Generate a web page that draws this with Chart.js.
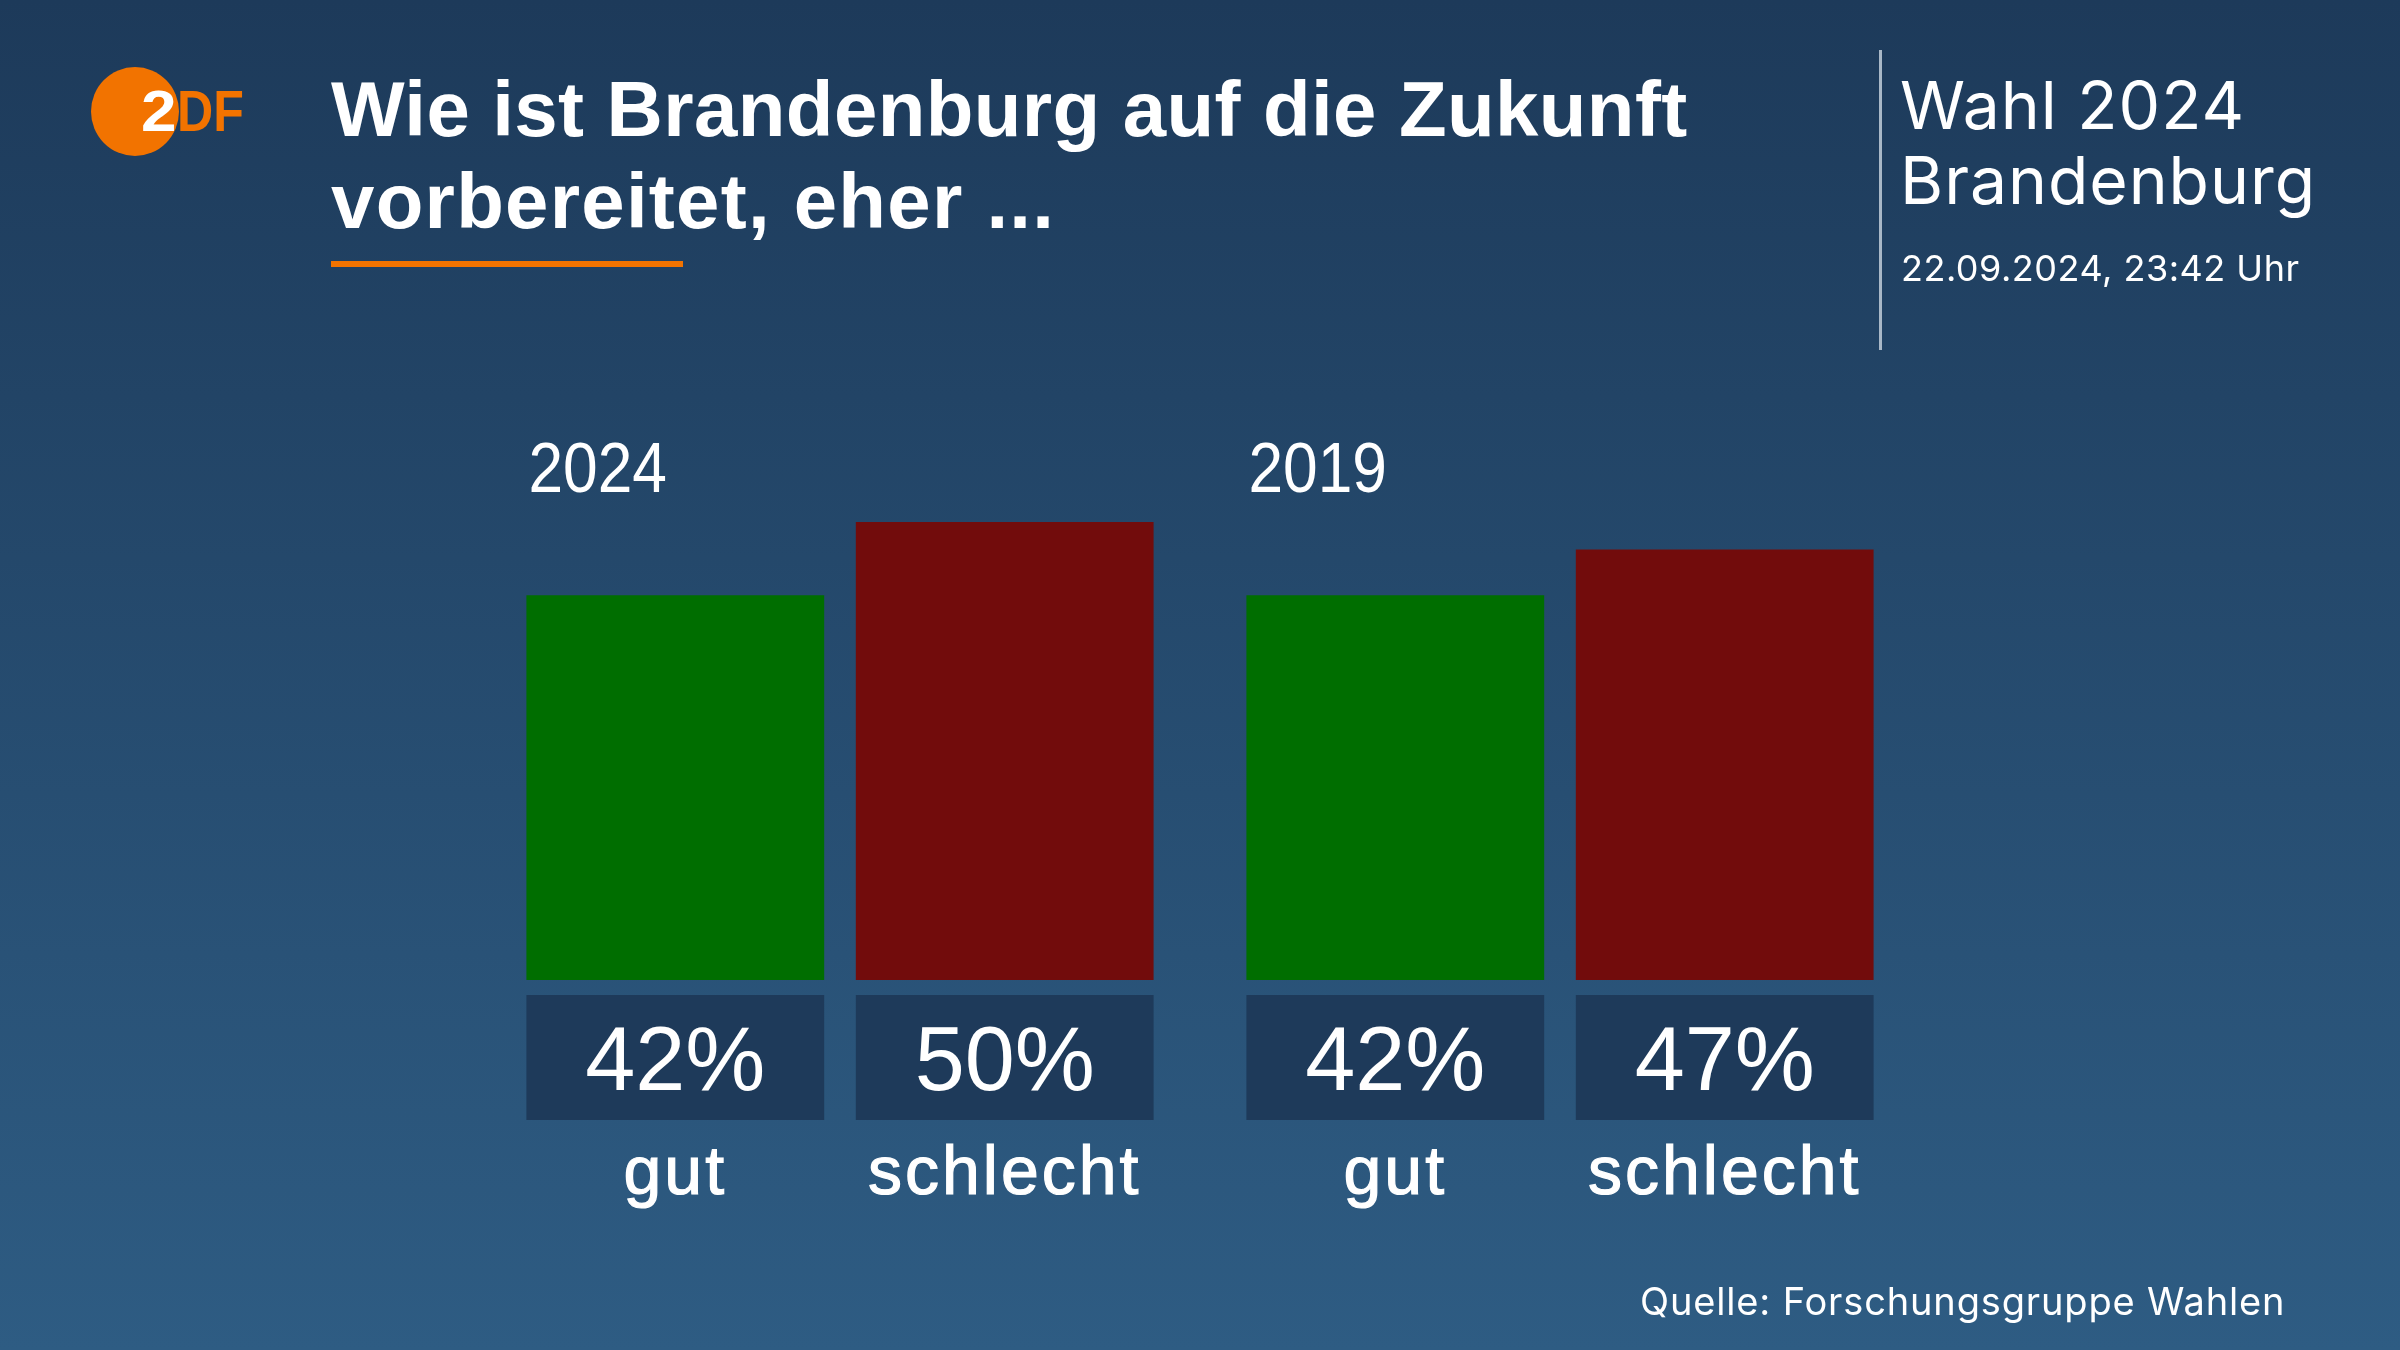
<!DOCTYPE html>
<html lang="de">
<head>
<meta charset="utf-8">
<title>Wie ist Brandenburg auf die Zukunft vorbereitet</title>
<script src="https://cdn.jsdelivr.net/npm/chart.js@4"></script>
<style>
    html, body { margin: 0; padding: 0; }
    body {
        width: 2400px; height: 1350px; position: relative; overflow: hidden;
        background: linear-gradient(180deg, #1d3a5a 0%, #2e5c83 100%);
        color: #fff; font-family: Inter, sans-serif;
    }
    #chart { position: absolute; left: 0; top: 0; }
    .txt { position: absolute; white-space: nowrap; line-height: 1; }
    .head { left: 331px; font: bold 78px "Liberation Sans", sans-serif; line-height: 1; }
    #logoCircle { position: absolute; left: 91px; top: 67px; width: 88px; height: 89px; border-radius: 50%; background: #f27300; }
    .logo { position: absolute; top: 83px; font: bold 57px "Liberation Sans", sans-serif; line-height: 1; transform-origin: left top; }
    #underline { position: absolute; left: 331px; top: 261px; width: 352px; height: 6px; background: #f27300; }
    #divider { position: absolute; left: 1879px; top: 50px; width: 3px; height: 300px; background: #a9b8c7; }
</style>
</head>
<body>
<canvas id="chart" width="2400" height="1350"></canvas>
<div id="logoCircle"></div>
<div class="logo" style="left:177px;color:#f27300;transform:scaleX(0.88)">DF</div>
<div class="logo" style="left:141px;color:#fff;transform:scaleX(1.12)">2</div>
<div class="txt head" style="top:70px;letter-spacing:0.4px">Wie ist Brandenburg auf die Zukunft</div>
<div class="txt head" style="top:162px;letter-spacing:1.25px">vorbereitet, eher ...</div>
<div id="underline"></div>
<div id="divider"></div>
<div class="txt" style="left:1900px;top:72px;font-size:66px;letter-spacing:1px">Wahl 2024</div>
<div class="txt" style="left:1900px;top:147px;font-size:66px;letter-spacing:0.95px">Brandenburg</div>
<div class="txt" style="left:1901px;top:250px;font-size:36px;letter-spacing:0.5px">22.09.2024, 23:42 Uhr</div>
<div class="txt" style="left:1640px;top:1282px;font-size:38px;letter-spacing:0.85px">Quelle: Forschungsgruppe Wahlen</div>
<script>
const years = ["2024", "2019"];
const answers = ["gut", "schlecht"];
const gutValues = [42, 42];
const schlechtValues = [50, 47];

const barLabels = {
    id: "barLabels",
    afterDatasetsDraw(chart) {
        const ctx = chart.ctx;
        ctx.save();
        chart.data.datasets.forEach((dataset, d) => {
            chart.getDatasetMeta(d).data.forEach((bar, i) => {
                const left = bar.x - bar.width / 2;
                ctx.fillStyle = "#1e3a5a";
                ctx.fillRect(left, bar.base + 15, bar.width, 125);

                ctx.fillStyle = "#fff";
                ctx.strokeStyle = "#fff";
                ctx.textAlign = "center";
                ctx.textBaseline = "alphabetic";
                ctx.font = '90px "Liberation Sans"';
                ctx.fillText(dataset.data[i] + "%", bar.x, bar.base + 110);

                // labels are a bit heavier than regular in the original
                ctx.font = '68px "Liberation Sans"';
                ctx.letterSpacing = "3px";
                ctx.lineWidth = 1.2;
                ctx.fillText(answers[d], bar.x, bar.base + 214);
                ctx.strokeText(answers[d], bar.x, bar.base + 214);
                ctx.letterSpacing = "0px";

                // year sits over the first bar of each group, squeezed like the condensed original
                if (d === 0) {
                    ctx.save();
                    ctx.translate(left + 2, 492);
                    ctx.scale(0.89, 1);
                    ctx.textAlign = "left";
                    ctx.font = '70px "Liberation Sans"';
                    ctx.fillText(years[i], 0, 0);
                    ctx.restore();
                }
            });
        });
        ctx.restore();
    }
};

new Chart(document.getElementById("chart"), {
    type: "bar",
    data: {
        labels: years,
        datasets: [
            { label: answers[0], data: gutValues, backgroundColor: "#006e00" },
            { label: answers[1], data: schlechtValues, backgroundColor: "#720c0c" }
        ]
    },
    options: {
        responsive: false,
        animation: false,
        devicePixelRatio: 1,
        categoryPercentage: 0.915,
        barPercentage: 0.904,
        layout: { padding: { left: 480, right: 480, top: 430.4, bottom: 370 } },
        plugins: { legend: { display: false }, tooltip: { enabled: false } },
        scales: {
            x: { display: false },
            y: { display: false, min: 0, max: 60 }
        }
    },
    plugins: [barLabels]
});
</script>
</body>
</html>
